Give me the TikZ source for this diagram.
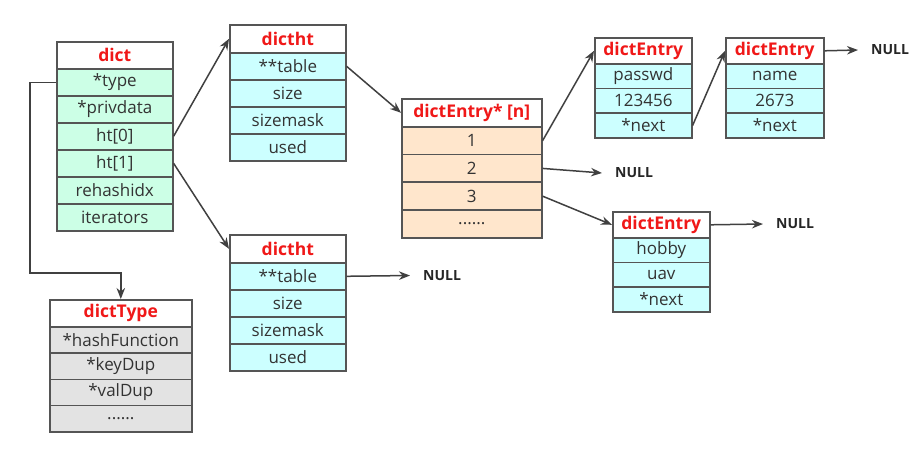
\documentclass[tikz,border=0pt]{standalone}
\usepackage{fontspec}
\setmainfont{Open Sans}
\usetikzlibrary{arrows.meta}
\definecolor{bordc}{HTML}{555555}
\definecolor{arrc}{HTML}{404040}
\definecolor{hred}{HTML}{F01818}
\definecolor{cgreen}{HTML}{CCFFE6}
\definecolor{ccyan}{HTML}{CCFFFF}
\definecolor{cpeach}{HTML}{FFE6CC}
\definecolor{cgray}{HTML}{E3E3E3}
\definecolor{ctext}{HTML}{333333}
\tikzset{
  cell/.style={draw=bordc, line width=1.6pt, anchor=north west, inner sep=0pt,
    text=ctext, font=\fontsize{17}{19}\selectfont},
  hdr/.style={cell, fill=white, text=hred, font=\fontsize{17.5}{19}\selectfont\bfseries},
  grn/.style={cell, fill=cgreen},
  cyn/.style={cell, fill=ccyan},
  pch/.style={cell, fill=cpeach},
  gry/.style={cell, fill=cgray},
  nulltxt/.style={anchor=west, inner xsep=13pt, inner ysep=0pt, font=\fontsize{14}{16}\selectfont\bfseries, text=black!85},
  arr/.style={draw=arrc, line width=1.5pt, -{Stealth[length=11pt,width=8.5pt]}},
  ln/.style={draw=arrc, line width=1.5pt}
}
\begin{document}
\begin{tikzpicture}[x=1pt,y=-1pt]
\useasboundingbox (0,0) rectangle (924,449);
\fill[white] (0,0) rectangle (924,449);
% dict
\node[hdr, minimum width=116, minimum height=27] (dh) at (56,41) {dict};
\node[grn, minimum width=116, minimum height=27] (d1) at (56,68) {*type};
\node[grn, minimum width=116, minimum height=27] (d2) at (56,95) {*privdata};
\node[grn, minimum width=116, minimum height=27] (d3) at (56,122) {ht[0]};
\node[grn, minimum width=116, minimum height=27] (d4) at (56,149) {ht[1]};
\node[grn, minimum width=116, minimum height=27] (d5) at (56,176) {rehashidx};
\node[grn, minimum width=116, minimum height=27] (d6) at (56,203) {iterators};
% dictht 1
\node[hdr, minimum width=116, minimum height=28] (ah) at (229,24) {dictht};
\node[cyn, minimum width=116, minimum height=27] (a1) at (229,52) {**table};
\node[cyn, minimum width=116, minimum height=27] (a2) at (229,79) {size};
\node[cyn, minimum width=116, minimum height=27] (a3) at (229,106) {sizemask};
\node[cyn, minimum width=116, minimum height=27] (a4) at (229,133) {used};
% dictht 2
\node[hdr, minimum width=116, minimum height=28] (bh) at (229,234) {dictht};
\node[cyn, minimum width=116, minimum height=27] (b1) at (229,262) {**table};
\node[cyn, minimum width=116, minimum height=27] (b2) at (229,289) {size};
\node[cyn, minimum width=116, minimum height=27] (b3) at (229,316) {sizemask};
\node[cyn, minimum width=116, minimum height=27] (b4) at (229,343) {used};
% dictType
\node[hdr, minimum width=142, minimum height=27] (th) at (49,299) {dictType};
\node[gry, minimum width=142, minimum height=26] (t1) at (49,326) {*hashFunction};
\node[gry, minimum width=142, minimum height=26.5] (t2) at (49,352) {*keyDup};
\node[gry, minimum width=142, minimum height=26] (t3) at (49,378.5) {*valDup};
\node[gry, minimum width=142, minimum height=26.5] (t4) at (49,404.5) {......};
% dictEntry* [n]
\node[hdr, minimum width=140, minimum height=28] (nh) at (401,98) {dictEntry* [n]};
\node[pch, minimum width=140, minimum height=27.75] (n1) at (401,126) {1};
\node[pch, minimum width=140, minimum height=27.75] (n2) at (401,153.75) {2};
\node[pch, minimum width=140, minimum height=27.75] (n3) at (401,181.5) {3};
\node[pch, minimum width=140, minimum height=27.75] (n4) at (401,209.25) {......};
% dictEntry 1
\node[hdr, minimum width=97, minimum height=26] (eh) at (594,37) {dictEntry};
\node[cyn, minimum width=97, minimum height=24.7] (e1) at (594,63) {passwd};
\node[cyn, minimum width=97, minimum height=24.7] (e2) at (594,87.7) {123456};
\node[cyn, minimum width=97, minimum height=24.6] (e3) at (594,112.4) {*next};
% dictEntry 2
\node[hdr, minimum width=98, minimum height=26] (fh) at (725,37) {dictEntry};
\node[cyn, minimum width=98, minimum height=24.7] (f1) at (725,63) {name};
\node[cyn, minimum width=98, minimum height=24.7] (f2) at (725,87.7) {2673};
\node[cyn, minimum width=98, minimum height=24.6] (f3) at (725,112.4) {*next};
% dictEntry 3
\node[hdr, minimum width=97, minimum height=26] (gh) at (612,211) {dictEntry};
\node[cyn, minimum width=97, minimum height=24.7] (g1) at (612,237) {hobby};
\node[cyn, minimum width=97, minimum height=24.7] (g2) at (612,261.7) {uav};
\node[cyn, minimum width=97, minimum height=24.6] (g3) at (612,286.4) {*next};
% NULLs
\node[nulltxt] (nb) at (410,275.5) {NULL};
\node[nulltxt] (nn) at (602,173) {NULL};
\node[nulltxt] (nf) at (858,50) {NULL};
\node[nulltxt] (ng) at (763,224) {NULL};
% connectors
\draw[arr] (d3.east) -- (ah.west);
\draw[arr] (d4.east) -- (bh.west);
\draw[arr] (a1.east) -- (nh.west);
\draw[arr] (b1.east) -- (nb.west);
\draw[arr] (n1.east) -- (eh.west);
\draw[arr] (n2.east) -- (nn.west);
\draw[arr] (n3.east) -- (gh.west);
\draw[arr] (e3.east) -- (fh.west);
\draw[arr] (fh.east) -- (nf.west);
\draw[arr] (gh.east) -- (ng.west);
\draw[arr] (d1.west) -- ++(-26,0) |- ([yshift=26pt]th.north) -- (th.north);
\end{tikzpicture}
\end{document}
